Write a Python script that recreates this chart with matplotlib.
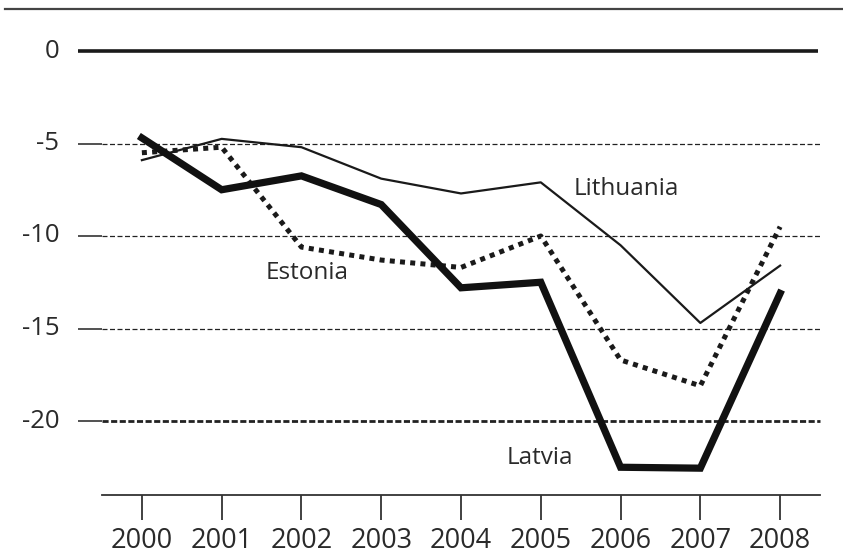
import matplotlib
matplotlib.use("Agg")
import matplotlib.pyplot as plt
from matplotlib.lines import Line2D

years = [2000, 2001, 2002, 2003, 2004, 2005, 2006, 2007, 2008]
latvia = [-4.7, -7.5, -6.75, -8.3, -12.8, -12.5, -22.5, -22.55, -13.1]
lithuania = [-5.9, -4.75, -5.2, -6.9, -7.7, -7.1, -10.5, -14.7, -11.6]
estonia = [-5.5, -5.2, -10.6, -11.3, -11.7, -10.0, -16.7, -18.1, -9.5]
yticks = [0, -5, -10, -15, -20]
ytick_labels = ["0", "-5", "-10", "-15", "-20"]

plt.rcParams['font.family'] = ['Open Sans', 'DejaVu Sans']
W, H = 843, 560
fig = plt.figure(figsize=(W / 100, H / 100), dpi=100)
ax = fig.add_axes([102 / W, 1 - 495 / H, (820 - 102) / W, (495 - 23.25) / H])
ax.set_xlim(1999.5, 2008.5)
ax.set_ylim(-24, 1.5)

txt = '#2a2a2a'
ytr = ax.get_yaxis_transform()
for v, lab in zip(yticks, ytick_labels):
    if v == 0:
        ax.plot([-0.0334, 0.9972], [v, v], color='#1a1a1a', lw=2.6, transform=ytr,
                clip_on=False, solid_capstyle='butt', zorder=3)
    else:
        ax.plot([-0.0334, 0.0], [v, v], color='#333333', lw=1.2, transform=ytr,
                clip_on=False, solid_capstyle='butt')
        lw = 2.0 if v == -20 else 0.9
        ax.plot([0.0, 1.0], [v, v], color='#222222', lw=lw, transform=ytr,
                linestyle=(0, (4, 2)) if v != -20 else (0, (2.2, 0.9)), clip_on=False)
    ax.text(-0.0595, v, lab, transform=ytr, ha='right', va='center',
            fontsize=18.5, color=txt)

ax.plot(years, lithuania, color='#1a1a1a', lw=1.6, zorder=4)
ax.plot(years, estonia, color='#1a1a1a', lw=3.6, linestyle=(0, (1, 1.05)), zorder=4)
ax.plot(years, latvia, color='#111111', lw=5.2, zorder=5, solid_joinstyle='miter')

ax.text(2006.07, -7.45, "Lithuania", fontsize=17.5, color=txt, ha='center', va='center')
ax.text(2002.07, -12.0, "Estonia", fontsize=17.5, color=txt, ha='center', va='center')
ax.text(2004.99, -22.0, "Latvia", fontsize=17.5, color=txt, ha='center', va='center')

for s in ['top', 'right', 'left']:
    ax.spines[s].set_visible(False)
ax.spines['bottom'].set_color('#333333')
ax.spines['bottom'].set_linewidth(1.3)
ax.set_yticks([])
ax.set_xticks(years)
ax.set_xticklabels([str(y) for y in years], fontsize=19.5, color=txt)
ax.tick_params(axis='x', direction='out', length=18, width=1.3, color='#333333', pad=5)

fig.add_artist(Line2D([5 / W, 1.0], [1 - 9 / H, 1 - 9 / H], color='#444444', lw=1.6,
                      transform=fig.transFigure))

fig.savefig("out.png", dpi=100)
